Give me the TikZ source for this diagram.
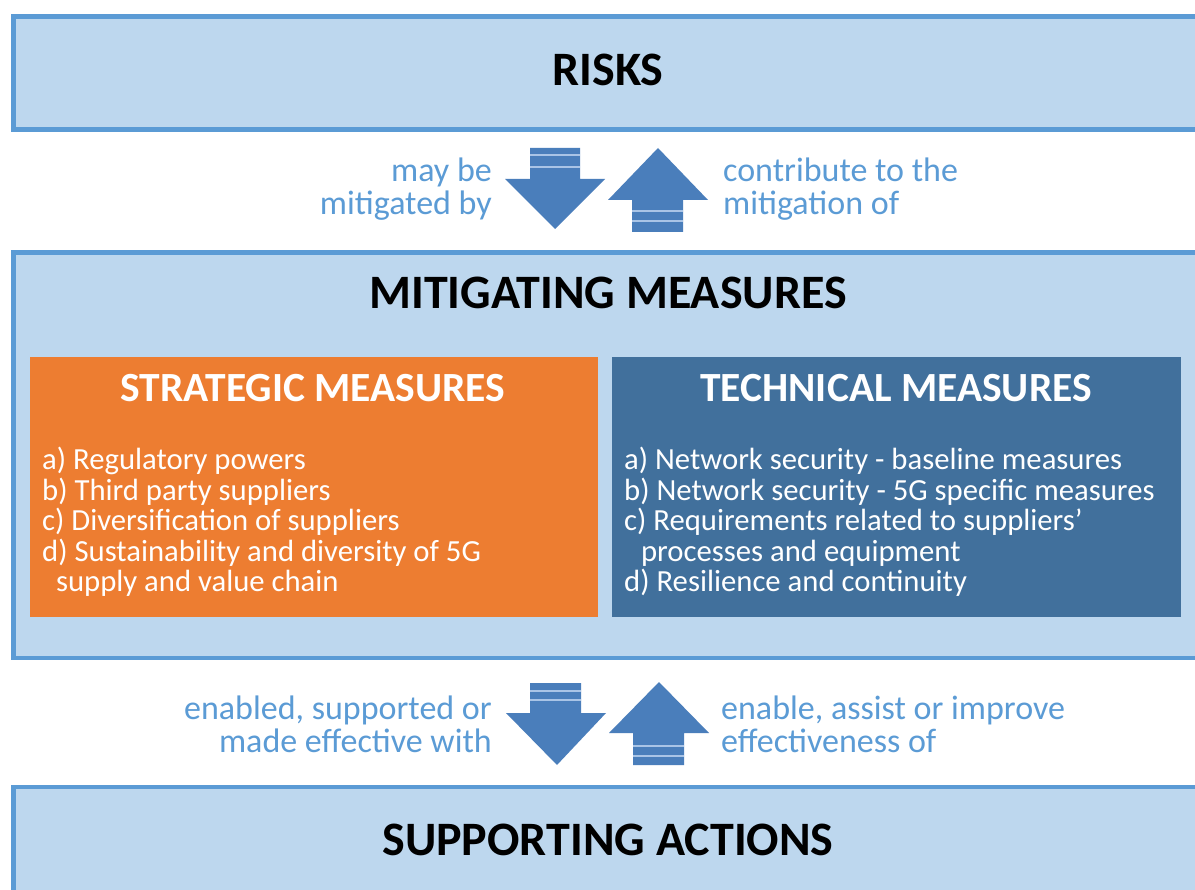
\documentclass[tikz,border=0pt]{standalone}
\usepackage{fontspec}
\setmainfont{Carlito}
\definecolor{boxfill}{HTML}{BDD7EE}
\definecolor{boxline}{HTML}{5B9BD5}
\definecolor{orangefill}{HTML}{ED7D31}
\definecolor{techfill}{HTML}{41709C}
\definecolor{arrowfill}{HTML}{4A7EBB}
\definecolor{labelcol}{HTML}{5B9BD5}
\definecolor{stripecol}{HTML}{A9C4E6}
\begin{document}
\begin{tikzpicture}[x=1pt,y=-1pt,
  bigbox/.style={draw=boxline,fill=boxfill,line width=4.5pt,anchor=north west,inner sep=0pt},
  innerbox/.style={anchor=north west,inner sep=0pt,draw=none},
  maintitle/.style={font=\fontsize{48}{52}\selectfont\bfseries,text=black,inner sep=0pt},
  subtitle/.style={font=\fontsize{41.5}{45}\selectfont\bfseries,text=white,inner sep=0pt},
  listtext/.style={font=\fontsize{30.7}{30.5}\selectfont,text=white,align=left,anchor=north west,inner sep=0pt},
  flowlabel/.style={font=\fontsize{34}{33}\selectfont,text=labelcol,inner sep=0pt},
  blockarrow/.style={fill=arrowfill},
  stripe/.style={draw=stripecol,line width=1.6pt}
]
\useasboundingbox (0,0) rectangle (1195,890);
\clip (0,0) rectangle (1195,890);
\fill[white] (0,0) rectangle (1195,890);

% big boxes
\node[bigbox,minimum width=1220pt,minimum height=113pt] (risks) at (11,14.5) {};
\node[bigbox,minimum width=1220pt,minimum height=405pt] (mitig) at (11,250.5) {};
\node[bigbox,minimum width=1220pt,minimum height=200pt] (support) at (11,784.5) {};

% inner boxes
\node[innerbox,fill=orangefill,minimum width=568pt,minimum height=260pt] (strat) at (30,357) {};
\node[innerbox,fill=techfill,minimum width=569pt,minimum height=260pt] (tech) at (612,357) {};

% titles
\node[maintitle] (risksT) at (608,70) {RISKS};
\node[maintitle] (mitigT) at (608,293) {MITIGATING MEASURES};
\node[maintitle] (supportT) at (608,840) {SUPPORTING ACTIONS};
\node[subtitle] (stratT) at (313,388) {STRATEGIC MEASURES};
\node[subtitle] (techT) at (896,388) {TECHNICAL MEASURES};

% lists
\node[listtext] (stratL) at (42,447) {a) Regulatory powers\\b) Third party suppliers\\c) Diversification of suppliers\\d) Sustainability and diversity of 5G\\\hspace*{0.45em}supply and value chain};
\node[listtext] (techL) at (624,447) {a) Network security - baseline measures\\b) Network security - 5G specific measures\\c) Requirements related to suppliers’\\\hspace*{0.55em}processes and equipment\\d) Resilience and continuity};

% flow labels
\node[flowlabel,anchor=east,align=right] (l1) at (492,189) {may be\\mitigated by};
\node[flowlabel,anchor=west,align=left] (l2) at (723,189) {contribute to the\\mitigation of};
\node[flowlabel,anchor=east,align=right] (l3) at (492,724) {enabled, supported or\\made effective with};
\node[flowlabel,anchor=west,align=left] (l4) at (721,724) {enable, assist or improve\\effectiveness of};

% block arrows (top pair)
\fill[blockarrow] (530,148) -- (580,148) -- (580,179) -- (605,179) -- (555,229) -- (505,179) -- (530,179) -- cycle;
\draw[stripe] (530,155) -- (580,155);
\draw[stripe] (530,167) -- (580,167);
\fill[blockarrow] (658,148) -- (708,200) -- (683,200) -- (683,232) -- (632,232) -- (632,200) -- (608,200) -- cycle;
\draw[stripe] (632,211) -- (683,211);
\draw[stripe] (632,221) -- (683,221);

% block arrows (bottom pair)
\fill[blockarrow] (530,683) -- (581,683) -- (581,713) -- (606,713) -- (557,765) -- (506,713) -- (530,713) -- cycle;
\draw[stripe] (530,691) -- (581,691);
\draw[stripe] (530,700) -- (581,700);
\fill[blockarrow] (659,682) -- (709,733) -- (684,733) -- (684,765) -- (633,765) -- (633,733) -- (609,733) -- cycle;
\draw[stripe] (633,746) -- (684,746);
\draw[stripe] (633,756) -- (684,756);
\end{tikzpicture}
\end{document}
